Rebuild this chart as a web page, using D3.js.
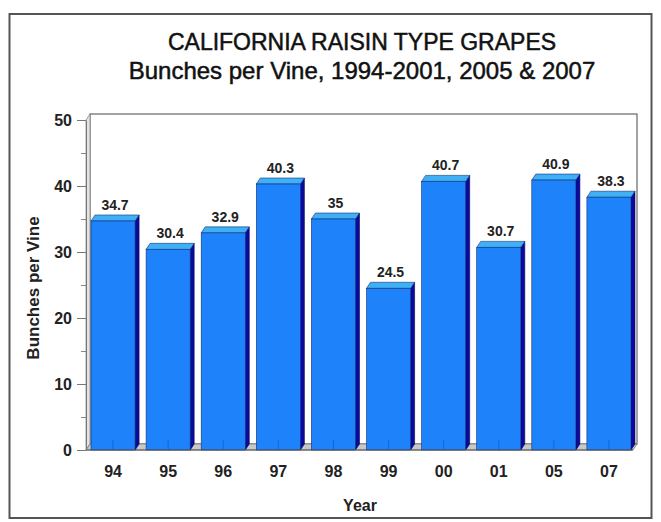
<!DOCTYPE html>
<html lang="en">
<head>
  <meta charset="UTF-8">
  <title>California Raisin Type Grapes</title>
  <style>
    body { margin: 0; background: #fff; }
    svg { display: block; font-family: "Liberation Sans", Arial, sans-serif; }
  </style>
</head>
<body>
  <script src="https://cdn.jsdelivr.net/npm/d3@7/dist/d3.min.js"></script>
  <script>
    let years = ["94", "95", "96", "97", "98", "99", "00", "01", "05", "07"];
    let bunches = [34.7, 30.4, 32.9, 40.3, 35, 24.5, 40.7, 30.7, 40.9, 38.3];
    let yTicks = [0, 10, 20, 30, 40, 50];
    let yMinor = [5, 15, 25, 35, 45];

    let width = 661,
      height = 522;
    let dx = 4, dy = 6; // 3d depth

    let svg = d3.select("body")
      .append("svg")
      .attr("width", width)
      .attr("height", height);

    // outer frame
    svg.append("rect")
      .attr("x", 9.5).attr("y", 14)
      .attr("width", 642).attr("height", 504)
      .attr("fill", "#fff")
      .attr("stroke", "#555")
      .attr("stroke-width", 2);

    let x = d3.scaleBand()
      .domain(years)
      .range([90, 641]);
    let y = d3.scaleLinear()
      .domain([0, 50])
      .range([450, 120]);
    let bw = x.bandwidth() * 0.8;
    let left = 86, right = 633;

    // back wall + left wall + floor
    svg.append("rect")
      .attr("x", left + dx).attr("y", y(50) - dy)
      .attr("width", right - left).attr("height", y(0) - y(50))
      .attr("fill", "#fff")
      .attr("stroke", "#666")
      .attr("stroke-width", 1.2);
    svg.append("path")
      .attr("d", `M${left},${y(0)}L${left},${y(50)}L${left + dx},${y(50) - dy}L${left + dx},${y(0) - dy}Z`)
      .attr("fill", "#e4e4e4")
      .attr("stroke", "#888")
      .attr("stroke-width", 0.8);
    svg.append("path")
      .attr("d", `M${left},${y(0)}L${left + dx},${y(0) - dy}L${right + dx},${y(0) - dy}L${right},${y(0)}Z`)
      .attr("fill", "#c8c8c8")
      .attr("stroke", "#777")
      .attr("stroke-width", 0.8);

    // 柱子
    let bars = svg.selectAll("g.bar")
      .data(bunches)
      .enter()
      .append("g")
      .attr("class", "bar");

    let x0 = (d, i) => x(years[i]) + 1;

    bars.append("path") // side
      .attr("d", (d, i) => {
        let a = x0(d, i) + bw;
        return `M${a},${y(d)}L${a + dx},${y(d) - dy}L${a + dx},${y(0) - dy}L${a},${y(0)}Z`;
      })
      .attr("fill", "#0a0aa0")
      .attr("stroke", "#000050")
      .attr("stroke-width", 0.6);
    bars.append("path") // top
      .attr("d", (d, i) => {
        let a = x0(d, i);
        return `M${a},${y(d)}L${a + dx},${y(d) - dy}L${a + bw + dx},${y(d) - dy}L${a + bw},${y(d)}Z`;
      })
      .attr("fill", "#3fb0f5")
      .attr("stroke", "#10307a")
      .attr("stroke-width", 0.6);
    bars.append("rect") // front
      .attr("x", (d, i) => x0(d, i))
      .attr("y", d => y(d))
      .attr("width", bw)
      .attr("height", d => y(0) - y(d))
      .attr("fill", "#1e82fa")
      .attr("stroke", "#10307a")
      .attr("stroke-width", 0.6);

    // value labels
    bars.append("text")
      .attr("x", (d, i) => x0(d, i) + bw / 2 + dx / 2)
      .attr("y", d => y(d) - dy - 5)
      .attr("text-anchor", "middle")
      .attr("font-size", 14)
      .attr("font-weight", "bold")
      .attr("fill", "#222")
      .text(d => d);

    // x axis
    let xAxis = svg.append("g")
      .attr("transform", `translate(0,${y(0)})`)
      .call(d3.axisBottom(x).tickSize(-10).tickPadding(16).tickSizeOuter(0)
        .offset(0));
    xAxis.selectAll(".tick").attr("transform", d => `translate(${x(d) + 1 + bw / 2},0)`);
    xAxis.select(".domain").attr("stroke", "#555").attr("d", `M${left},0H${right}`);
    xAxis.selectAll(".tick line").attr("stroke", "#1560c8").attr("stroke-width", 0.8);
    xAxis.selectAll(".tick text")
      .attr("font-size", 16)
      .attr("font-weight", "bold")
      .attr("font-family", "Liberation Sans, Arial, sans-serif")
      .attr("fill", "#222");

    // y axis
    let yAxis = svg.append("g")
      .attr("transform", `translate(${left},0)`)
      .call(d3.axisLeft(y).tickValues(yTicks).tickSize(9).tickPadding(5).tickSizeOuter(0));
    yAxis.select(".domain").attr("stroke", "#777");
    yAxis.selectAll(".tick line").attr("stroke", "#777");
    yAxis.selectAll(".tick text")
      .attr("font-size", 16)
      .attr("font-weight", "bold")
      .attr("font-family", "Liberation Sans, Arial, sans-serif")
      .attr("fill", "#222");
    let yAxisMinor = svg.append("g")
      .attr("transform", `translate(${left},0)`)
      .call(d3.axisLeft(y).tickValues(yMinor).tickSize(5).tickFormat(""));
    yAxisMinor.select(".domain").remove();
    yAxisMinor.selectAll(".tick line").attr("stroke", "#888");

    // titles
    svg.append("text")
      .attr("x", 362).attr("y", 50)
      .attr("text-anchor", "middle")
      .attr("font-size", 23)
      .attr("fill", "#111")
      .attr("stroke", "#111")
      .attr("stroke-width", 0.5)
      .text("CALIFORNIA RAISIN TYPE GRAPES");
    svg.append("text")
      .attr("x", 362).attr("y", 79)
      .attr("text-anchor", "middle")
      .attr("font-size", 24)
      .attr("fill", "#111")
      .attr("stroke", "#111")
      .attr("stroke-width", 0.5)
      .text("Bunches per Vine, 1994-2001, 2005 & 2007");

    svg.append("text")
      .attr("x", 360).attr("y", 511)
      .attr("text-anchor", "middle")
      .attr("font-size", 16)
      .attr("font-weight", "bold")
      .attr("fill", "#222")
      .text("Year");
    svg.append("text")
      .attr("transform", "translate(39,288) rotate(-90)")
      .attr("text-anchor", "middle")
      .attr("font-size", 17)
      .attr("font-weight", "bold")
      .attr("fill", "#222")
      .text("Bunches per Vine");
  </script>
</body>
</html>
